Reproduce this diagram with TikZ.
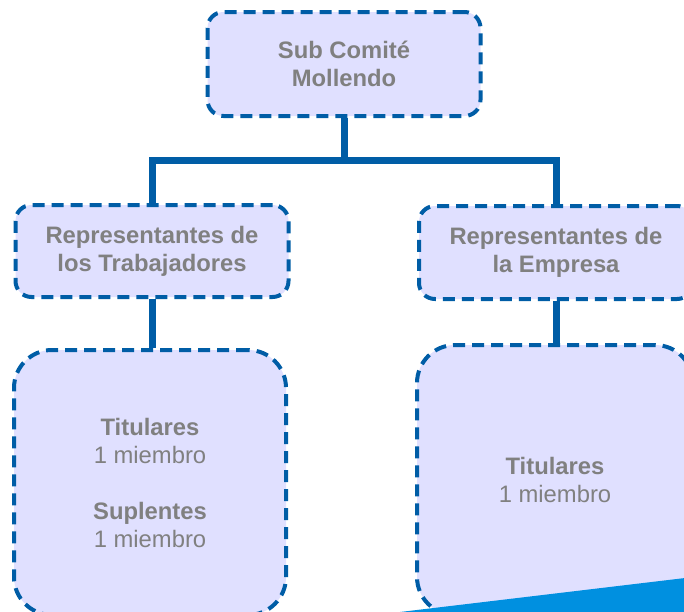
\documentclass[tikz,border=0pt]{standalone}
\usepackage{fontspec}
\setmainfont{Liberation Sans}
\definecolor{boxfill}{HTML}{E0E0FF}
\definecolor{boxline}{HTML}{005DA6}
\definecolor{txtgray}{HTML}{808080}
\definecolor{accent}{HTML}{0090E0}
\begin{document}
\begin{tikzpicture}[x=1pt,y=-1pt,
  orgbox/.style={draw=boxline, fill=boxfill, line width=4pt,
    dash pattern=on 12pt off 7pt, rounded corners=16pt, inner sep=0pt,
    align=center, text=txtgray,
    font=\fontsize{23.8}{28}\selectfont\bfseries},
  bigbox/.style={orgbox, rounded corners=38pt},
  link/.style={draw=boxline, line width=7pt, line join=miter}]
\useasboundingbox (0,0) rectangle (684,611);
\clip (0,0) rectangle (684,611);
\node[orgbox, minimum width=273pt, minimum height=104pt] (top) at (344,64) {Sub Comité\\Mollendo};
\node[orgbox, minimum width=273pt, minimum height=92pt] (lm) at (152,251) {Representantes de\\los Trabajadores};
\node[orgbox, minimum width=274pt, minimum height=93pt] (rm) at (556,252.5) {Representantes de\\la Empresa};
\node[bigbox, minimum width=272pt, minimum height=265pt] (lb) at (150,482.5)
  {Titulares\\{\mdseries 1 miembro}\\[28pt]Suplentes\\{\mdseries 1 miembro}};
\node[bigbox, minimum width=276pt, minimum height=270pt] (rb) at (555,480)
  {Titulares\\{\mdseries 1 miembro}};
\coordinate (bar) at (0,160);
\draw[link] (top.south) -- (top.south |- bar) -| (lm.north);
\draw[link] (top.south |- bar) -| (rm.north);
\draw[link] (lm.south) -- (lm.south |- lb.north);
\draw[link] (rm.south) -- (rm.south |- rb.north);
\fill[accent] (400,612) -- (685,578) -- (685,612) -- cycle;
\end{tikzpicture}
\end{document}
